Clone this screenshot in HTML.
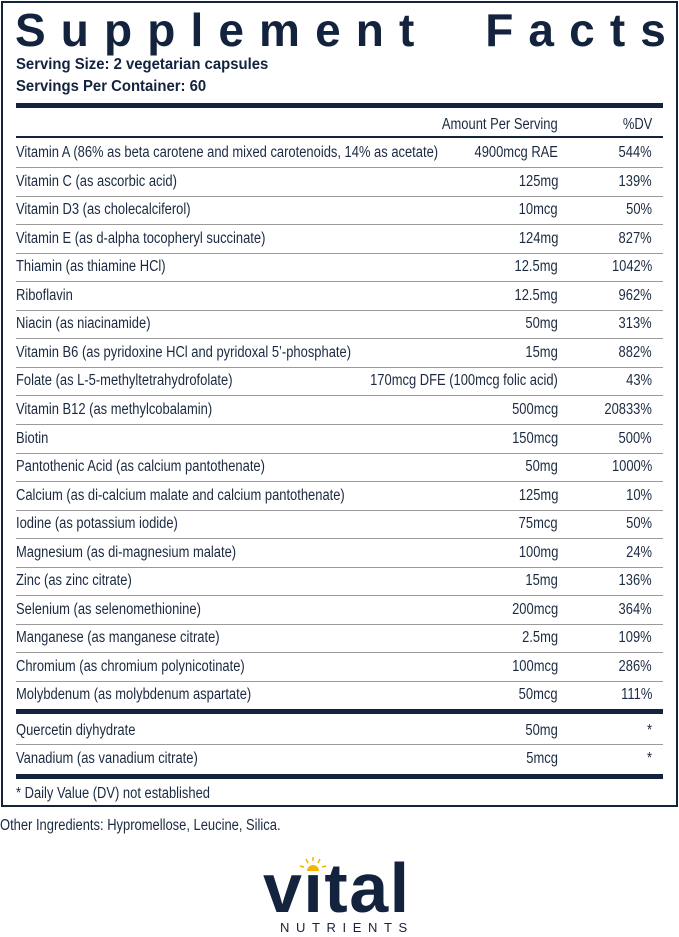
<!DOCTYPE html>
<html><head><meta charset="utf-8"><style>
*{margin:0;padding:0;box-sizing:border-box}
body{width:679px;height:937px;background:#fff;position:relative;overflow:hidden;color:#13233d;font-family:"Liberation Sans",sans-serif;}
.box{position:absolute;left:1px;top:1px;width:677px;height:806px;border:2px solid #13233d;}
.title{position:absolute;left:15px;top:7px;width:651px;display:flex;justify-content:space-between;font-weight:bold;font-size:46px;line-height:46px;color:#13233d}
.ss{position:absolute;left:16px;font-weight:bold;font-size:15.5px;line-height:18px;transform:scaleX(0.96);transform-origin:left}
.bar{position:absolute;left:16px;width:647px;background:#13233d}
.ln{position:absolute;left:16px;width:647px;height:1px;background:#9a9a9a}
.t{position:absolute;font-size:15.5px;line-height:18px;white-space:nowrap;color:#1b2a40;transform:scaleX(0.835)}
.l{left:16px;transform-origin:left}.a{right:121px;text-align:right;transform-origin:right}.d{right:27px;text-align:right;transform-origin:right}
</style></head><body>
<div class="box"></div>
<div class="title"><span>S</span><span>u</span><span>p</span><span>p</span><span>l</span><span>e</span><span>m</span><span>e</span><span>n</span><span>t</span><span>&nbsp;</span><span>&nbsp;</span><span>F</span><span>a</span><span>c</span><span>t</span><span>s</span></div>
<div class="ss" style="top:56px">Serving Size: 2 vegetarian capsules</div>
<div class="ss" style="top:78px">Servings Per Container: 60</div>
<div class="bar" style="top:103px;height:5px"></div>
<div class="t a" style="top:116px">Amount Per Serving</div>
<div class="t d" style="top:116px">%DV</div>
<div class="bar" style="top:136px;height:2px"></div>
<div id="rows"></div>
<script>
var r=[["Vitamin A (86% as beta carotene and mixed carotenoids, 14% as acetate)","4900mcg RAE","544%"],["Vitamin C (as ascorbic acid)","125mg","139%"],["Vitamin D3 (as cholecalciferol)","10mcg","50%"],["Vitamin E (as d-alpha tocopheryl succinate)","124mg","827%"],["Thiamin (as thiamine HCl)","12.5mg","1042%"],["Riboflavin","12.5mg","962%"],["Niacin (as niacinamide)","50mg","313%"],["Vitamin B6 (as pyridoxine HCl and pyridoxal 5\u2019-phosphate)","15mg","882%"],["Folate (as L-5-methyltetrahydrofolate)","170mcg DFE (100mcg folic acid)","43%"],["Vitamin B12 (as methylcobalamin)","500mcg","20833%"],["Biotin","150mcg","500%"],["Pantothenic Acid (as calcium pantothenate)","50mg","1000%"],["Calcium (as di-calcium malate and calcium pantothenate)","125mg","10%"],["Iodine (as potassium iodide)","75mcg","50%"],["Magnesium (as di-magnesium malate)","100mg","24%"],["Zinc (as zinc citrate)","15mg","136%"],["Selenium (as selenomethionine)","200mcg","364%"],["Manganese (as manganese citrate)","2.5mg","109%"],["Chromium (as chromium polynicotinate)","100mcg","286%"],["Molybdenum (as molybdenum aspartate)","50mcg","111%"]];
var h="";
for(var i=0;i<r.length;i++){var y=139+i*28.55;var ty=y+5;
h+='<div class="t l" style="top:'+ty+'px">'+r[i][0]+'</div><div class="t a" style="top:'+ty+'px">'+r[i][1]+'</div><div class="t d" style="top:'+ty+'px">'+r[i][2]+'</div>';
if(i<r.length-1)h+='<div class="ln" style="top:'+(y+28)+'px"></div>';}
document.getElementById("rows").innerHTML=h;
</script>
<div class="bar" style="top:709px;height:5px"></div>
<div class="t l" style="top:722px">Quercetin diyhydrate</div><div class="t a" style="top:722px">50mg</div><div class="t d" style="top:722px">*</div>
<div class="ln" style="top:744px"></div>
<div class="t l" style="top:750px">Vanadium (as vanadium citrate)</div><div class="t a" style="top:750px">5mcg</div><div class="t d" style="top:750px">*</div>
<div class="bar" style="top:774px;height:5px"></div>
<div class="t l" style="top:785px">* Daily Value (DV) not established</div>
<div class="t l" style="left:0;top:817px">Other Ingredients: Hypromellose, Leucine, Silica.</div>
<div style="position:absolute;left:263px;top:853px;font-weight:bold;font-size:70px;line-height:70px;letter-spacing:1.5px;color:#13233d">vital</div>
<div style="position:absolute;left:298px;top:850px;width:28px;height:22px;background:#fff"></div>
<svg style="position:absolute;left:299px;top:856px" width="28" height="16"><g stroke="#f2b600" stroke-width="1.5"><line x1="14" y1="1" x2="14" y2="5"/><line x1="7" y1="3" x2="9" y2="7"/><line x1="21" y1="3" x2="19" y2="7"/><line x1="1" y1="10" x2="5" y2="11"/><line x1="27" y1="10" x2="23" y2="11"/></g><path d="M8 15 A6 6 0 0 1 20 15 Z" fill="#f2b600"/></svg>
<div style="position:absolute;left:280px;top:920px;font-size:13px;line-height:15px;letter-spacing:6.6px;color:#13233d">NUTRIENTS</div>
</body></html>
